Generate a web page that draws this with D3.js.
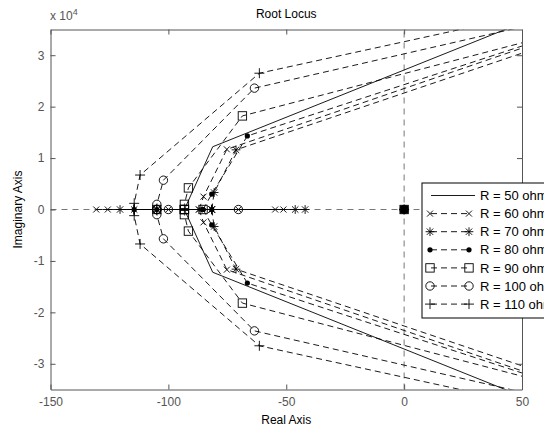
<!DOCTYPE html>
<html>
<head>
<meta charset="utf-8">
<script src="https://cdn.jsdelivr.net/npm/d3@7"></script>
<style>
  body { margin: 0; background: #fff; }
  svg { display: block; font-family: "Liberation Sans", Arial, sans-serif; }
</style>
</head>
<body>
<svg id="chart" width="544" height="426"></svg>
<script>
// root locus data (real part, imaginary part)
const seriesNames = ['R = 50 ohms', 'R = 60 ohms', 'R = 70 ohms', 'R = 80 ohms', 'R = 90 ohms', 'R = 100 ohms', 'R = 110 ohms'];

// roots that stay on the real axis
const realRoots = [
  [-128, -93.2, -43],
  [-130.6, -125.7, -100, -70.3, -54.7, -51.2],
  [-120.5, -114.5, -81.6, -46.2, -42],
  [-114.5, -104.9, -85.3, -81.6],
  [-104.9, -93.2, -85.3],
  [-104.9, -100, -70.3],
  [-114.5, -104.9, -81.6]
];

// upper branch, starting at the break-away point (lower branch is the mirror image)
const branchRe = [
  [-93.2, -81.2, 150],
  [-87, -85.1, -75.2, 150],
  [-81.6, -80.6, -71.3, 150],
  [-85.3, -81.6, -66.5, 150],
  [-93.2, -93.2, -91.5, -68.6, 150],
  [-104.9, -104.9, -102.1, -63.5, 150],
  [-114.5, -114.5, -112, -61.4, 150]
];
const branchIm = [
  [0, 12200, 54700],
  [0, 2500, 11700, 47100],
  [0, 3300, 11600, 45900],
  [0, 3000, 14300, 46800],
  [0, 1000, 4200, 18200, 44400],
  [0, 1000, 5700, 23600, 46000],
  [0, 1200, 6700, 26500, 47600]
];

// pole at the origin, shared by every system
const originRoot = 0;

const xTicks = [-150, -100, -50, 0, 50];
const yTicks = [-30000, -20000, -10000, 0, 10000, 20000, 30000];

const markerTypes = ['none', 'x', 'star', 'dot', 'square', 'circle', 'plus'];
const dashTypes = [null, '6,4', '6,4', '6,4', '6,4', '6,4', '6,4'];

const plot = { left: 50.5, right: 522, top: 29.5, bottom: 389.5 };

const svg = d3.select('#chart');

const x = d3.scaleLinear().domain([-150, 50]).range([plot.left, plot.right]);
const y = d3.scaleLinear().domain([-35000, 35000]).range([plot.bottom, plot.top]);

svg.append('defs').append('clipPath').attr('id', 'plot-clip')
  .append('rect')
  .attr('x', plot.left).attr('y', plot.top)
  .attr('width', plot.right - plot.left).attr('height', plot.bottom - plot.top);

const body = svg.append('g').attr('clip-path', 'url(#plot-clip)');

// axis lines through the origin
body.append('line')
  .attr('x1', x(-150)).attr('x2', x(50)).attr('y1', y(0)).attr('y2', y(0))
  .attr('stroke', '#555').attr('stroke-width', 0.8).attr('stroke-dasharray', '6,5');
body.append('line')
  .attr('x1', x(0)).attr('x2', x(0)).attr('y1', y(-35000)).attr('y2', y(35000))
  .attr('stroke', '#555').attr('stroke-width', 0.8).attr('stroke-dasharray', '6,5');

function drawMarker(g, type, px, py) {
  if (type === 'none') return;
  if (type === 'dot') {
    g.append('circle').attr('cx', px).attr('cy', py).attr('r', 2.6).attr('fill', '#000');
    return;
  }
  if (type === 'circle') {
    g.append('circle').attr('cx', px).attr('cy', py).attr('r', 4.2)
      .attr('fill', 'none').attr('stroke', '#000').attr('stroke-width', 0.9);
    return;
  }
  if (type === 'square') {
    g.append('rect').attr('x', px - 4.2).attr('y', py - 4.2).attr('width', 8.4).attr('height', 8.4)
      .attr('fill', 'none').attr('stroke', '#000').attr('stroke-width', 0.9);
    return;
  }
  const p = d3.path();
  if (type === 'x' || type === 'star') {
    const d = type === 'x' ? 3 : 3.2;
    p.moveTo(px - d, py - d); p.lineTo(px + d, py + d);
    p.moveTo(px - d, py + d); p.lineTo(px + d, py - d);
  }
  if (type === 'plus' || type === 'star') {
    const d = type === 'plus' ? 5 : 4.4;
    p.moveTo(px - d, py); p.lineTo(px + d, py);
    p.moveTo(px, py - d); p.lineTo(px, py + d);
  }
  g.append('path').attr('d', p.toString())
    .attr('fill', 'none').attr('stroke', '#000').attr('stroke-width', 0.9);
}

const line = d3.line().x(d => x(d[0])).y(d => y(d[1]));

seriesNames.forEach((name, i) => {
  const g = body.append('g').attr('class', 'series');
  const reals = realRoots[i];
  const upper = branchRe[i].map((re, j) => [re, branchIm[i][j]]);
  const lower = upper.map(d => [d[0], -d[1]]);
  const realLine = [[d3.min(reals), 0], [d3.max(reals), 0]];

  [realLine, upper, lower].forEach(pts => {
    g.append('path')
      .attr('d', line(pts))
      .attr('fill', 'none')
      .attr('stroke', '#000')
      .attr('stroke-width', 0.9)
      .attr('stroke-dasharray', dashTypes[i]);
  });

  const type = markerTypes[i];
  reals.forEach(re => drawMarker(g, type, x(re), y(0)));
  upper.concat(lower).forEach(d => drawMarker(g, type, x(d[0]), y(d[1])));
  drawMarker(g, type, x(originRoot), y(0));
});

// origin root drawn heavier as in the picture
body.append('rect')
  .attr('x', x(originRoot) - 4).attr('y', y(0) - 4).attr('width', 8).attr('height', 8)
  .attr('fill', '#000');

// axes
const axisColor = '#555';
const fmtX = d => String(d);
const fmtY = d => String(d / 10000);

const gx = svg.append('g').attr('transform', `translate(0,${plot.bottom})`)
  .call(d3.axisBottom(x).tickValues(xTicks).tickFormat(fmtX).tickSizeInner(-5).tickSizeOuter(0).tickPadding(8));
const gxt = svg.append('g').attr('transform', `translate(0,${plot.top})`)
  .call(d3.axisTop(x).tickValues(xTicks).tickFormat('').tickSizeInner(-5).tickSizeOuter(0));
const gy = svg.append('g').attr('transform', `translate(${plot.left},0)`)
  .call(d3.axisLeft(y).tickValues(yTicks).tickFormat(fmtY).tickSizeInner(-5).tickSizeOuter(0).tickPadding(6));
const gyr = svg.append('g').attr('transform', `translate(${plot.right},0)`)
  .call(d3.axisRight(y).tickValues(yTicks).tickFormat('').tickSizeInner(-5).tickSizeOuter(0));

[gx, gxt, gy, gyr].forEach(g => {
  g.select('.domain').attr('stroke', axisColor);
  g.selectAll('.tick line').attr('stroke', axisColor);
  g.selectAll('.tick text')
    .attr('fill', '#555')
    .style('font-size', '12px')
    .style('font-family', '"Liberation Sans", Arial, sans-serif');
});

// exponent label
const expo = svg.append('text').attr('x', 50).attr('y', 20)
  .attr('fill', '#555').style('font-size', '12px');
expo.append('tspan').text('x 10');
expo.append('tspan').attr('dy', -5).style('font-size', '9px').text('4');

// title and axis labels
svg.append('text').attr('x', (plot.left + plot.right) / 2).attr('y', 18)
  .attr('text-anchor', 'middle').style('font-size', '12px').text('Root Locus');
svg.append('text').attr('x', (plot.left + plot.right) / 2).attr('y', 424)
  .attr('text-anchor', 'middle').style('font-size', '12px').text('Real Axis');
svg.append('text')
  .attr('transform', `translate(22,${(plot.top + plot.bottom) / 2}) rotate(-90)`)
  .attr('text-anchor', 'middle').style('font-size', '12px').text('Imaginary Axis');

// legend (runs past the right edge of the figure, as in the original)
const legend = svg.append('g').attr('transform', 'translate(422,183)');
legend.append('rect').attr('x', 0).attr('y', 0).attr('width', 150).attr('height', 135)
  .attr('fill', '#fff').attr('stroke', '#000').attr('stroke-width', 1);
seriesNames.forEach((name, i) => {
  const cy = 12.5 + i * 18.1;
  const g = legend.append('g');
  g.append('line').attr('x1', 9).attr('x2', i === 0 ? 53 : 47).attr('y1', cy).attr('y2', cy)
    .attr('stroke', '#000').attr('stroke-width', 0.9).attr('stroke-dasharray', dashTypes[i]);
  drawMarker(g, markerTypes[i], 8, cy);
  drawMarker(g, markerTypes[i], 47, cy);
  g.append('text').attr('x', 58).attr('y', cy + 4.6)
    .style('font-size', '13px').text(name);
});
</script>
</body>
</html>
